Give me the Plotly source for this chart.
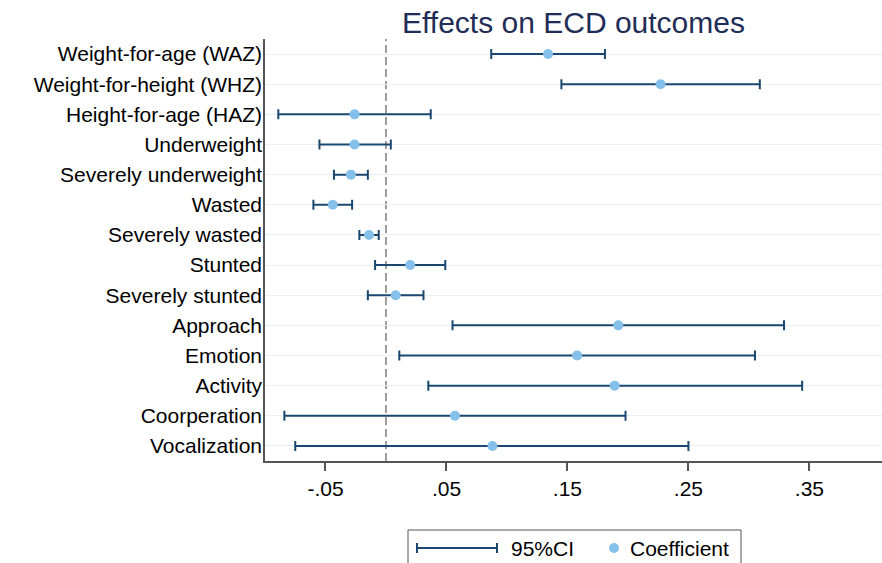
import plotly.graph_objects as go

outcomes = ["Weight-for-age (WAZ)", "Weight-for-height (WHZ)", "Height-for-age (HAZ)",
            "Underweight", "Severely underweight", "Wasted", "Severely wasted",
            "Stunted", "Severely stunted", "Approach", "Emotion", "Activity",
            "Coorperation", "Vocalization"]
coef = [0.134, 0.227, -0.026, -0.026, -0.029, -0.044, -0.014,
        0.020, 0.008, 0.192, 0.158, 0.189, 0.057, 0.088]
ci_low = [0.087, 0.145, -0.089, -0.055, -0.043, -0.060, -0.022,
          -0.009, -0.015, 0.055, 0.011, 0.035, -0.084, -0.075]
ci_high = [0.181, 0.309, 0.037, 0.004, -0.015, -0.028, -0.006,
           0.049, 0.031, 0.329, 0.305, 0.344, 0.198, 0.250]
xtick_vals = [-0.05, 0.05, 0.15, 0.25, 0.35]
xtick_text = ["-.05", ".05", ".15", ".25", ".35"]

NAVY = "#1a476f"
LIGHT = "#85c0ea"
FONT = "Liberation Sans, Arial, sans-serif"

W, H = 882, 563
L, R, T, B = 265, 0, 39, 102
pw, ph = W - L - R, H - T - B

def px(xp):
    return (xp - L) / pw

def py(yp):
    return (H - B - yp) / ph

fig = go.Figure()
fig.add_trace(go.Scatter(
    x=coef, y=outcomes, mode="markers",
    marker=dict(color=LIGHT, size=10),
    error_x=dict(type="data", symmetric=False,
                 array=[h - c for h, c in zip(ci_high, coef)],
                 arrayminus=[c - l for c, l in zip(coef, ci_low)],
                 color=NAVY, thickness=2, width=5),
    showlegend=False, cliponaxis=False,
))

shapes = [
    dict(type="line", xref="x", yref="paper", x0=0, x1=0, y0=0, y1=1,
         line=dict(color="#7f7f7f", width=1.5, dash="8px,4px"), layer="below"),
    # legend box
    dict(type="rect", xref="paper", yref="paper", x0=px(408), x1=px(741),
         y0=py(580), y1=py(530), line=dict(color="#555555", width=1)),
    # legend CI symbol
    dict(type="line", xref="paper", yref="paper", x0=px(417), x1=px(497),
         y0=py(548), y1=py(548), line=dict(color=NAVY, width=2)),
    dict(type="line", xref="paper", yref="paper", x0=px(417), x1=px(417),
         y0=py(543), y1=py(553), line=dict(color=NAVY, width=2)),
    dict(type="line", xref="paper", yref="paper", x0=px(497), x1=px(497),
         y0=py(543), y1=py(553), line=dict(color=NAVY, width=2)),
    dict(type="circle", xref="paper", yref="paper", x0=px(609), x1=px(619),
         y0=py(553), y1=py(543), fillcolor=LIGHT, line=dict(width=0)),
]

annotations = [
    dict(text="95%CI", xref="paper", yref="paper", x=px(509), y=py(548),
         xanchor="left", yanchor="middle", showarrow=False,
         font=dict(size=21, color="#000000", family=FONT)),
    dict(text="Coefficient", xref="paper", yref="paper", x=px(628), y=py(548),
         xanchor="left", yanchor="middle", showarrow=False,
         font=dict(size=21, color="#000000", family=FONT)),
]

fig.update_layout(
    width=W, height=H,
    margin=dict(l=L, r=R, t=T, b=B, pad=0),
    paper_bgcolor="white", plot_bgcolor="white",
    font=dict(family=FONT, size=21, color="#000000"),
    title=dict(text="Effects on ECD outcomes", x=0.5, xref="paper",
               y=1 - 22 / H, yref="container", yanchor="middle", xanchor="center",
               font=dict(size=30, color="#1f2d57", family=FONT)),
    xaxis=dict(range=[-0.1, 0.41], tickvals=xtick_vals, ticktext=xtick_text,
               showgrid=False, zeroline=False, showline=True, linecolor="#555555",
               linewidth=1.5, ticks="outside", ticklen=8, tickcolor="#555555",
               tickwidth=1.5, tickfont=dict(size=21, color="#000000")),
    yaxis=dict(type="category", categoryorder="array", categoryarray=outcomes,
               range=[13.5, -0.5], showgrid=True, gridcolor="#e8f0f3", gridwidth=1,
               zeroline=False, showline=True, linecolor="#555555", linewidth=1.5,
               ticks="", ticklabelstandoff=-3, tickfont=dict(size=21, color="#000000")),
    shapes=shapes, annotations=annotations,
)

fig.write_html("out.html")
